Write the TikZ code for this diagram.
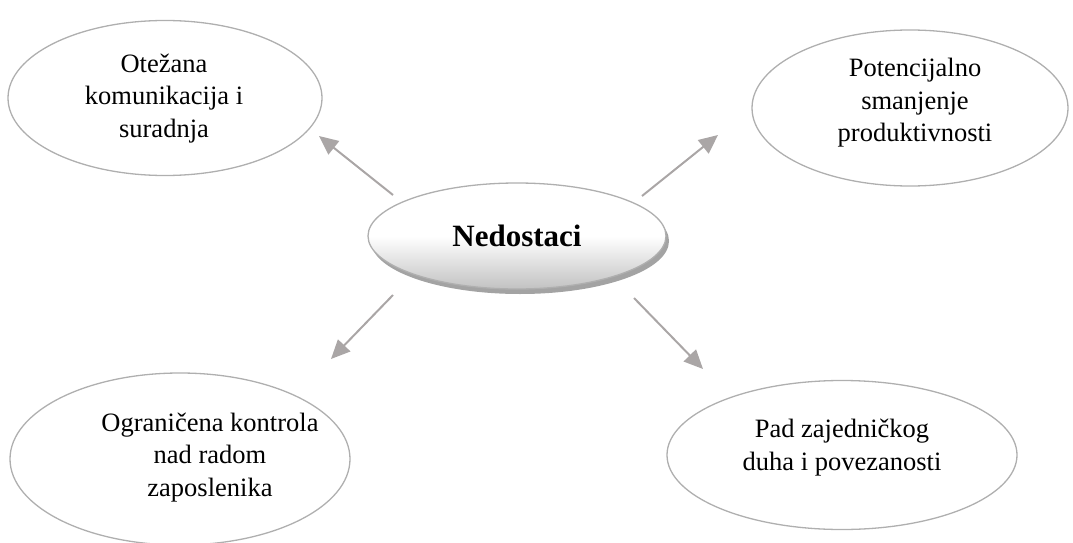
\documentclass[tikz,border=0pt]{standalone}
\usepackage{fontspec}
\setmainfont{Liberation Serif}
\usetikzlibrary{shapes.geometric,arrows.meta,shadows}
\definecolor{edgegray}{RGB}{175,175,175}
\definecolor{arrgray}{RGB}{170,166,166}
\tikzset{
  oval/.style={ellipse, draw=edgegray, line width=1.3pt, inner sep=0pt},
  lbl/.style={align=center, font=\fontsize{26.5}{32.5}\selectfont, inner sep=0pt},
  arr/.style={draw=arrgray, line width=2pt, -{Triangle[length=19pt,width=17pt]}},
}
\begin{document}
\begin{tikzpicture}[x=1pt,y=-1pt]
\useasboundingbox (0,0) rectangle (1073,543);
% outer ellipses
\node[oval, minimum width=314pt, minimum height=155pt] (tl) at (165,98) {};
\node[oval, minimum width=316pt, minimum height=156pt] (tr) at (910,108) {};
\node[oval, minimum width=340pt, minimum height=172pt] (bl) at (180,459) {};
\node[oval, minimum width=350pt, minimum height=149pt] (br) at (842,455) {};
% texts
\node[lbl] (ttl) at (164,98.4) {Otežana\\komunikacija i\\suradnja};
\node[lbl] (ttr) at (915,102.9) {Potencijalno\\smanjenje\\produktivnosti};
\node[lbl] (tbl) at (210,457.4) {Ograničena kontrola\\nad radom\\zaposlenika};
\node[lbl] (tbr) at (842,447.4) {Pad zajedničkog\\duha i povezanosti};
% centre
\node[ellipse, minimum width=298pt, minimum height=106pt, draw=edgegray, line width=1.3pt,
  top color=white, bottom color=black!24, middle color=white,
  drop shadow={shadow xshift=3pt, shadow yshift=-5pt, fill=black!45, opacity=0.8},
  font=\bfseries\fontsize{31}{36}\selectfont] (c) at (517,236) {Nedostaci};
% arrows
\coordinate (a1s) at (393,195); \coordinate (a1e) at (319,136);
\coordinate (a2s) at (642,196); \coordinate (a2e) at (718,135);
\coordinate (a3s) at (393,295); \coordinate (a3e) at (331,359);
\coordinate (a4s) at (634,298); \coordinate (a4e) at (703,369);
\draw[arr] (a1s) -- (a1e);
\draw[arr] (a2s) -- (a2e);
\draw[arr] (a3s) -- (a3e);
\draw[arr] (a4s) -- (a4e);
\end{tikzpicture}
\end{document}
